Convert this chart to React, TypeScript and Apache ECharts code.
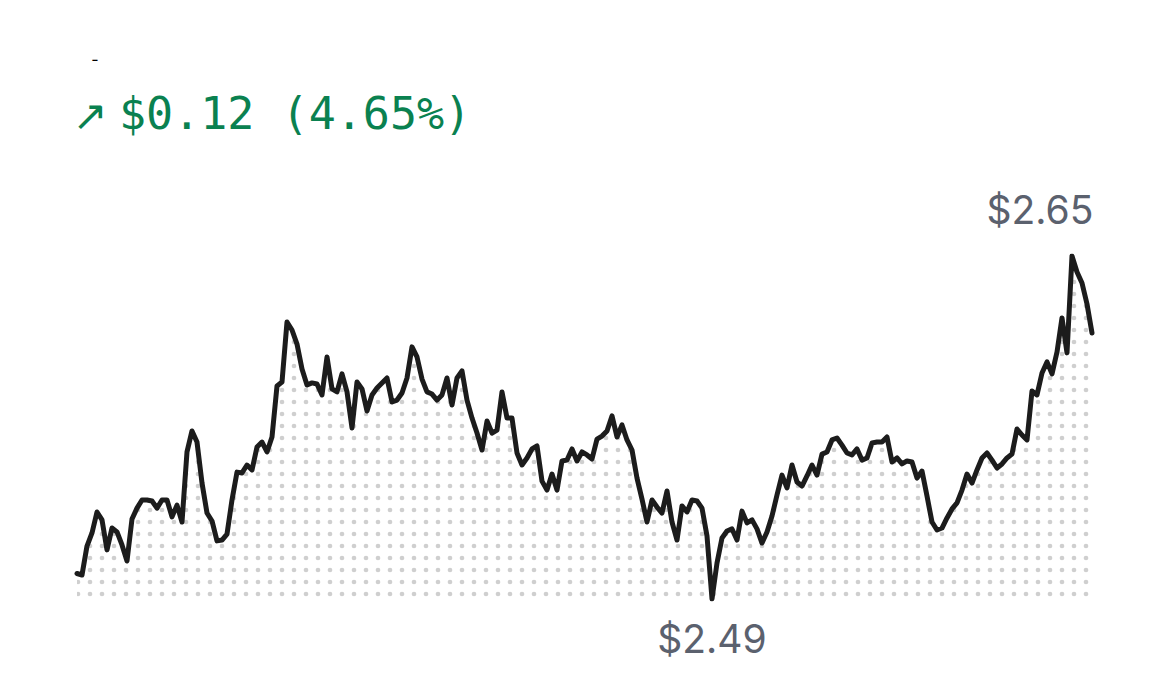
import React, { useEffect, useRef } from "react";
import * as echarts from "echarts";

// Price series (USD)
const prices: number[] = [
  2.5019, 2.5012, 2.5147, 2.5208, 2.5306, 2.5269, 2.5129, 2.5231, 2.5213, 2.5152,
  2.5077, 2.5273, 2.5324, 2.5362, 2.5362, 2.5357, 2.5324, 2.5362, 2.5362, 2.5283,
  2.5338, 2.5259, 2.5586, 2.5684, 2.5632, 2.5441, 2.5301, 2.5264, 2.5171, 2.5175,
  2.5203, 2.5362, 2.5492, 2.5488, 2.5525, 2.5502, 2.5609, 2.5632, 2.5586, 2.5656,
  2.5894, 2.5912, 2.6192, 2.6155, 2.6089, 2.5973, 2.5898, 2.5908, 2.5903, 2.5852,
  2.6029, 2.5880, 2.5866, 2.5950, 2.5866, 2.5698, 2.5912, 2.5880, 2.5777, 2.5852,
  2.5884, 2.5908, 2.5931, 2.5819, 2.5828, 2.5861, 2.5931, 2.6076, 2.6029, 2.5926,
  2.5866, 2.5856, 2.5828, 2.5852, 2.5931, 2.5805, 2.5931, 2.5964, 2.5828, 2.5744,
  2.5674, 2.5595, 2.5730, 2.5674, 2.5688, 2.5866, 2.5744, 2.5744, 2.5581, 2.5525,
  2.5558, 2.5600, 2.5614, 2.5450, 2.5408, 2.5483, 2.5408, 2.5544, 2.5548, 2.5600,
  2.5544, 2.5586, 2.5572, 2.5553, 2.5646, 2.5660, 2.5684, 2.5754, 2.5656, 2.5712,
  2.5642, 2.5595, 2.5464, 2.5366, 2.5259, 2.5362, 2.5329, 2.5301, 2.5404, 2.5259,
  2.5175, 2.5334, 2.5306, 2.5362, 2.5357, 2.5324, 2.5194, 2.4900, 2.5068, 2.5185,
  2.5217, 2.5227, 2.5175, 2.5310, 2.5255, 2.5269, 2.5227, 2.5161, 2.5213, 2.5287,
  2.5385, 2.5478, 2.5418, 2.5525, 2.5446, 2.5427, 2.5474, 2.5525, 2.5478, 2.5576,
  2.5586, 2.5642, 2.5651, 2.5618, 2.5581, 2.5572, 2.5600, 2.5548, 2.5558, 2.5628,
  2.5632, 2.5632, 2.5656, 2.5539, 2.5558, 2.5530, 2.5544, 2.5539, 2.5464, 2.5497,
  2.5380, 2.5259, 2.5222, 2.5231, 2.5278, 2.5320, 2.5348, 2.5408, 2.5483, 2.5441,
  2.5502, 2.5558, 2.5581, 2.5548, 2.5511, 2.5530, 2.5558, 2.5576, 2.5693, 2.5665,
  2.5642, 2.5870, 2.5852, 2.5954, 2.6006, 2.5950, 2.6052, 2.6211, 2.6048, 2.6500,
  2.6425, 2.6374, 2.6276, 2.6141,
];

const categories: string[] = prices.map((_, i) => String(i));

const titleText = "-";
const changeArrow = "↗";
const changeText = "$0.12 (4.65%)";

const fmt = (v: number) => "$" + v.toFixed(2);

export default function App() {
  const ref = useRef<HTMLDivElement>(null);

  useEffect(() => {
    if (!ref.current) return;
    const chart = echarts.init(ref.current, null, { renderer: "svg" });

    const dotSvg =
      '<svg xmlns="http://www.w3.org/2000/svg" width="12" height="12">' +
      '<circle cx="6" cy="6" r="2.35" fill="#cfcfcf"/></svg>';
    const dotUrl = "data:image/svg+xml;charset=utf-8," + encodeURIComponent(dotSvg);

    const minV = Math.min(...prices);
    const maxV = Math.max(...prices);

    chart.setOption({
      animation: false,
      grid: { left: 77, right: 78, top: 256, bottom: 76 },
      xAxis: {
        type: "category",
        data: categories,
        boundaryGap: false,
        show: false,
      },
      yAxis: {
        type: "value",
        min: minV,
        max: maxV,
        show: false,
      },
      series: [
        {
          type: "line",
          data: prices,
          symbol: "none",
          smooth: false,
          lineStyle: { color: "#1c1c1c", width: 5, join: "round", cap: "round" },
          areaStyle: {
            origin: "start",
            color: {
              image: dotUrl,
              repeat: "repeat",
              imageWidth: 12,
              imageHeight: 12,
              x: 8.7,
              y: 0,
            } as any,
            opacity: 1,
          },
          silent: true,
        },
      ],
    });

    const maxI = prices.indexOf(maxV);
    const minI = prices.indexOf(minV);
    const pMax = chart.convertToPixel({ seriesIndex: 0 }, [maxI, maxV]) as number[];
    const pMin = chart.convertToPixel({ seriesIndex: 0 }, [minI, minV]) as number[];
    const leftEdge = 77;
    const rightEdge = 1170 - 78;
    const half = 52;
    const clampX = (x: number) => Math.max(leftEdge + half, Math.min(rightEdge - half, x));

    chart.setOption({
      graphic: [
        {
          type: "text",
          x: 95,
          y: 59,
          style: {
            text: titleText,
            fill: "#000000",
            font: "16px Inter",
            textAlign: "center",
            textVerticalAlign: "middle",
          },
        },
        {
          type: "text",
          x: 90,
          y: 115,
          style: {
            text: changeArrow,
            fill: "#0a8150",
            font: "42px 'DejaVu Sans'",
            textAlign: "center",
            textVerticalAlign: "middle",
          },
        },
        {
          type: "text",
          x: 119,
          y: 113,
          style: {
            text: changeText,
            fill: "#0a8150",
            font: "45px 'DejaVu Sans Mono'",
            textAlign: "left",
            textVerticalAlign: "middle",
          },
        },
        {
          type: "text",
          x: clampX(pMax[0]),
          y: pMax[1] - 47,
          style: {
            text: fmt(maxV),
            fill: "#5b616e",
            font: "39px Inter",
            textAlign: "center",
            textVerticalAlign: "middle",
          },
        },
        {
          type: "text",
          x: clampX(pMin[0]),
          y: pMin[1] + 39,
          style: {
            text: fmt(minV),
            fill: "#5b616e",
            font: "39px Inter",
            textAlign: "center",
            textVerticalAlign: "middle",
          },
        },
      ],
    });

    return () => chart.dispose();
  }, []);

  return (
    <div
      ref={ref}
      style={{ position: "absolute", left: 0, top: 0, width: 1170, height: 675, background: "#ffffff" }}
    />
  );
}
